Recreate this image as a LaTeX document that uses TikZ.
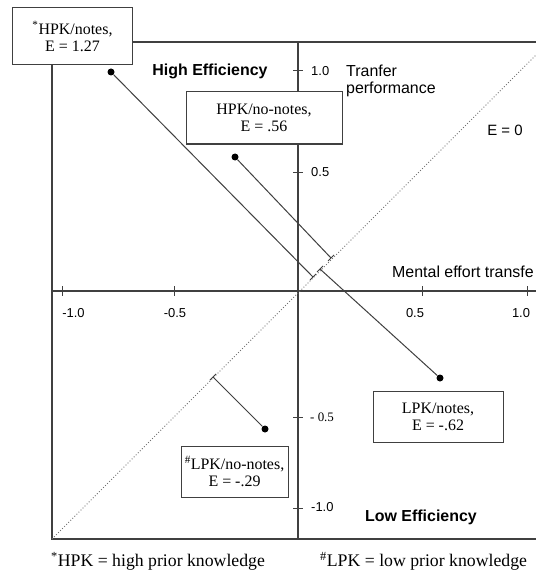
\documentclass[tikz,border=0pt]{standalone}
\usepackage{fontspec}
\setmainfont{Liberation Serif}
\newfontfamily\arialf{Liberation Sans}
\definecolor{linegray}{HTML}{404040}
\definecolor{dotgray}{HTML}{707070}
\begin{document}
\begin{tikzpicture}[x=1bp,y=-1bp,
  axisline/.style={draw=linegray, line width=1.3bp},
  conn/.style={draw=linegray, line width=1bp},
  ticklbl/.style={font=\arialf\fontsize{13}{15}\selectfont, inner sep=0},
  title/.style={font=\arialf\fontsize{16}{17}\selectfont, inner sep=0},
  eff/.style={font=\arialf\bfseries\fontsize{16}{17}\selectfont, inner sep=0},
  box/.style={draw=linegray, line width=1bp, fill=white, align=center, inner sep=0,
              font=\fontsize{16}{17}\selectfont},
  dotn/.style={circle, fill=black, inner sep=0, minimum size=7bp},
  foot/.style={font=\fontsize{17.8}{19}\selectfont, inner sep=0},
]
\clip (0,0) rectangle (536,571);
\fill[white] (0,0) rectangle (536,571);

% frame and axes
\draw[axisline] (52,42) rectangle (548,539);
\draw[axisline] (52,291) -- (548,291);
\draw[axisline] (298,42) -- (298,539);

% ticks
\foreach \x in {62,174,422,527} \draw[axisline, line width=1bp] (\x,286) -- (\x,296);
\foreach \y in {71,172,417,508} \draw[axisline, line width=1bp] (293,\y) -- (303,\y);

% diagonal E = 0
\draw[dotgray, line width=0.9bp, dotted] (52,539) -- (549,42);

% data points and feet
\node[dotn] (d1) at (111,72) {};
\node[dotn] (d2) at (235,157) {};
\node[dotn] (d3) at (440,378) {};
\node[dotn] (d4) at (265,429) {};
\coordinate (f1) at (313,277);
\coordinate (f2) at (331,258);
\coordinate (f3) at (320,269);
\coordinate (f4) at (213,377);

\draw[conn] (d1) -- (f1);
\draw[conn] (d2) -- (f2);
\draw[conn] (d3) -- (f3);
\draw[conn] (d4) -- (f4);
\foreach \f in {f1,f2,f3,f4}
  \draw[conn] ([shift={(-3,3)}]\f) -- ([shift={(3,-3)}]\f);

% boxes
\node[box, minimum width=119bp, minimum height=57bp] (b1) at (72.5,36.5)
  {\textsuperscript{*}HPK/notes,\\ E = 1.27};
\node[box, minimum width=156bp, minimum height=52bp] (b2) at (264,118)
  {HPK/no-notes,\\ E = .56};
\node[box, minimum width=130bp, minimum height=51bp] (b3) at (438,416.5)
  {LPK/notes,\\ E = -.62};
\node[box, minimum width=107bp, minimum height=51bp] (b4) at (234.5,471.5)
  {\textsuperscript{\#}LPK/no-notes,\\ E = -.29};

% tick labels
\node[ticklbl] (xl1) at (73.5,313) {-1.0};
\node[ticklbl] (xl2) at (175,313) {-0.5};
\node[ticklbl] (xl3) at (415,313) {0.5};
\node[ticklbl] (xl4) at (521,313) {1.0};
\node[ticklbl, anchor=west] (yl1) at (311,71) {1.0};
\node[ticklbl, anchor=west] (yl2) at (311,172) {0.5};
\node[inner sep=0, anchor=west, font=\fontsize{13}{15}\selectfont] (yl3) at (310,417) {- 0.5};
\node[ticklbl, anchor=west] (yl4) at (311,507) {-1.0};

% titles
\node[title, anchor=north west, align=left] (ty) at (346,65) {Tranfer\\performance};
\node[title, anchor=west] (tx) at (392,271.5) {Mental effort transfe};
\node[title, font=\arialf\fontsize{15}{17}\selectfont] (e0) at (505,130) {E = 0};
\node[eff] (he) at (210,71) {High Efficiency};
\node[eff] (le) at (421,517) {Low Efficiency};

% footnotes
\node[foot, anchor=west] (fn1) at (51,561) {\textsuperscript{*}HPK = high prior knowledge};
\node[foot, anchor=west] (fn2) at (320,561) {\textsuperscript{\#}LPK = low prior knowledge};
\end{tikzpicture}
\end{document}
